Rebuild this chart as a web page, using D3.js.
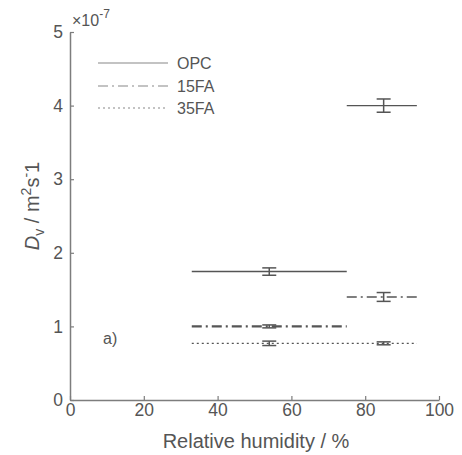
<!DOCTYPE html>
<html>
<head>
<meta charset="utf-8">
<script src="https://cdn.jsdelivr.net/npm/d3@7"></script>
<style>
  body { margin: 0; background: #fff; }
  text { font-family: "Liberation Sans", Arial, sans-serif; fill: #555; }
</style>
</head>
<body>
<div id="container"></div>
<script>
// data, D in units of 1e-7 m2/s
let series = ["OPC", "15FA", "35FA"];
let rhFrom = [33, 75];
let rhTo = [75, 94];
let rhMid = [54, 85];
let opcD = [1.745, 4.0];
let opcErr = [0.05, 0.09];
let fa15D = [1.0, 1.4];
let fa15Err = [0.02, 0.06];
let fa35D = [0.77, 0.77];
let fa35Err = [0.03, 0.02];
let xTicks = [0, 20, 40, 60, 80, 100];
let yTicks = [0, 1, 2, 3, 4, 5];

let w = 462;
let h = 455;
let padLeft = 70, padRight = 439, padTop = 32, padBottom = 400;
let axisColor = "#7d7d7d";
let lineColor = "#555";
let dashes = ["none", "10,4,2,4", "2,3"];

let svg = d3.select("#container")
  .append("svg")
  .attr("width", w)
  .attr("height", h);

let xScale = d3.scaleLinear().domain([0, 100]).range([padLeft, padRight]);
let yScale = d3.scaleLinear().domain([0, 5]).range([padBottom, padTop]);

// axes, matlab style ticks inside
let xAxis = d3.axisBottom(xScale).tickValues(xTicks).tickFormat(d3.format("d"))
  .tickSize(-4).tickPadding(3).tickSizeOuter(0);
let xg = svg.append("g").attr("transform", "translate(0," + padBottom + ")").call(xAxis);
let yAxis = d3.axisLeft(yScale).tickValues(yTicks).tickFormat(d3.format("d"))
  .tickSize(-4).tickPadding(7).tickSizeOuter(0);
let yg = svg.append("g").attr("transform", "translate(" + padLeft + ",0)").call(yAxis);

[xg, yg].forEach(g => {
  g.select(".domain").attr("stroke", axisColor).attr("stroke-width", 1.5);
  g.selectAll(".tick line").attr("stroke", axisColor).attr("stroke-width", 1.2);
  g.selectAll(".tick text").style("font-size", "17.5px").attr("fill", "#555")
    .style("font-family", "Liberation Sans, Arial, sans-serif");
});
xg.selectAll(".tick text").attr("dy", "0.75em");

// exponent
let expo = svg.append("text").attr("x", 72).attr("y", 26).style("font-size", "16px");
expo.append("tspan").text("\u00d710");
expo.append("tspan").attr("dy", -8).style("font-size", "12px").text("-7");

// axis labels
svg.append("text")
  .attr("x", 256)
  .attr("y", 448)
  .attr("text-anchor", "middle")
  .style("font-size", "20px")
  .text("Relative humidity / %");

let yl = svg.append("text")
  .attr("transform", "translate(39,206) rotate(-90)")
  .attr("text-anchor", "middle")
  .style("font-size", "20px");
yl.append("tspan").style("font-style", "italic").text("D");
yl.append("tspan").attr("dy", 5).style("font-size", "14px").text("v");
yl.append("tspan").attr("dy", -5).text(" / m");
yl.append("tspan").attr("dy", -8).style("font-size", "14px").text("2");
yl.append("tspan").attr("dy", 8).text("s");
yl.append("tspan").attr("dy", -8).style("font-size", "14px").text("-");
yl.append("tspan").attr("dy", 8).text("1");

// data lines
let allD = [opcD, fa15D, fa35D];
let allErr = [opcErr, fa15Err, fa35Err];
let widths = [1.4, 1.6, 1.4];

allD.forEach((vals, s) => {
  let g = svg.append("g").attr("class", "series");
  vals.forEach((d, i) => {
    g.append("line")
      .attr("x1", xScale(rhFrom[i]))
      .attr("x2", xScale(rhTo[i]))
      .attr("y1", yScale(d))
      .attr("y2", yScale(d))
      .attr("stroke", lineColor)
      .attr("stroke-width", (s == 1 && i == 0) ? 2.2 : widths[s])
      .attr("stroke-dasharray", dashes[s]);
    // error bar
    let e = allErr[s][i];
    let cx = xScale(rhMid[i]);
    g.append("line")
      .attr("x1", cx).attr("x2", cx)
      .attr("y1", yScale(d - e)).attr("y2", yScale(d + e))
      .attr("stroke", lineColor).attr("stroke-width", 1.5);
    [d - e, d + e].forEach(v => {
      g.append("line")
        .attr("x1", cx - 7).attr("x2", cx + 7)
        .attr("y1", yScale(v)).attr("y2", yScale(v))
        .attr("stroke", lineColor).attr("stroke-width", 1.5);
    });
  });
});

// legend
let legY = [63, 86, 108];
series.forEach((name, i) => {
  svg.append("line")
    .attr("x1", 98).attr("x2", 168)
    .attr("y1", legY[i]).attr("y2", legY[i])
    .attr("stroke", "#888")
    .attr("stroke-width", 1.2)
    .attr("stroke-dasharray", dashes[i]);
  svg.append("text")
    .attr("x", 177).attr("y", legY[i] + 6)
    .style("font-size", "16px")
    .text(name);
});

svg.append("text")
  .attr("x", 103).attr("y", 344)
  .style("font-size", "16px")
  .attr("fill", "#444")
  .text("a)");
</script>
</body>
</html>
